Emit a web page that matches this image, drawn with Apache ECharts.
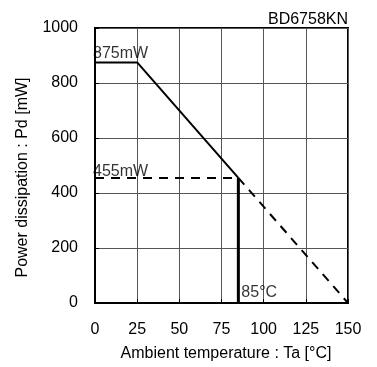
<!DOCTYPE html>
<html>
<head>
<meta charset="utf-8">
<script src="https://cdn.jsdelivr.net/npm/echarts@6/dist/echarts.min.js"></script>
<style>
  html, body { margin: 0; padding: 0; background: #fff; }
  #main { width: 377px; height: 367px; }
</style>
</head>
<body>
<div id="main"></div>
<script>
// derating curve
const deratingSolid = [[0, 875], [25, 875], [85, 455]]
const deratingDashed = [[85, 455], [150, 0]]
const limitDashed = [[0, 455], [85, 455]]
const limitVertical = [[85, 0], [85, 455]]
// text annotations
const noteX = [0, 0, 85]
const noteY = [875, 455, 0]
const noteText = ['875mW', '455mW', '85°C']
const notePos = [[-2, -1], [-2, 2], [3, -2]]

const font = 'Liberation Sans, Arial, sans-serif'
const chart = echarts.init(document.getElementById('main'))

function lineSeries(data, type, width) {
  return {
    type: 'line',
    data,
    symbol: 'none',
    silent: true,
    lineStyle: { color: '#000', width, type },
  }
}

chart.setOption({
  animation: false,
  title: {
    text: 'BD6758KN',
    right: 24,
    top: 7,
    textStyle: { fontFamily: font, fontSize: 16, fontWeight: 'normal', color: '#000' },
  },
  grid: {
    left: 95,
    right: 29,
    top: 28,
    bottom: 64,
    show: true,
    borderColor: '#000',
    borderWidth: 2,
  },
  xAxis: {
    type: 'value',
    min: 0,
    max: 150,
    interval: 25,
    name: 'Ambient temperature : Ta [°C]',
    nameLocation: 'middle',
    nameGap: 43,
    nameTextStyle: { fontFamily: font, fontSize: 16, color: '#000', padding: [0, 0, 0, 9] },
    axisLine: { lineStyle: { color: '#000', width: 2 } },
    axisTick: { inside: true, length: 4, lineStyle: { color: '#000' } },
    axisLabel: { margin: 19, fontFamily: font, fontSize: 16, color: '#000' },
    splitLine: { lineStyle: { color: '#555', width: 1 } },
  },
  yAxis: {
    type: 'value',
    min: 0,
    max: 1000,
    interval: 200,
    name: 'Power dissipation : Pd [mW]',
    nameLocation: 'middle',
    nameGap: 64,
    nameTextStyle: { fontFamily: font, fontSize: 16, color: '#000', padding: [0, 24, 0, 0] },
    axisLine: { show: true, lineStyle: { color: '#000', width: 2 } },
    axisTick: { show: true, inside: true, length: 4, lineStyle: { color: '#000' } },
    axisLabel: { margin: 17, fontFamily: font, fontSize: 16, color: '#000', formatter: v => String(v) },
    splitLine: { lineStyle: { color: '#555', width: 1 } },
  },
  series: [
    lineSeries(deratingSolid, 'solid', 2),
    lineSeries(limitDashed, [9, 7], 2),
    lineSeries(deratingDashed, [9, 7], 2),
    lineSeries(limitVertical, 'solid', 3),
    {
      type: 'scatter',
      symbolSize: 0,
      silent: true,
      data: noteText.map((t, i) => ({
        value: [noteX[i], noteY[i]],
        name: t,
        label: { position: notePos[i] },
      })),
      label: {
        show: true,
        align: 'left',
        verticalAlign: 'bottom',
        formatter: p => p.name,
        fontFamily: font,
        fontSize: 16,
        color: '#000',
      },
    },
  ],
})
</script>
</body>
</html>
